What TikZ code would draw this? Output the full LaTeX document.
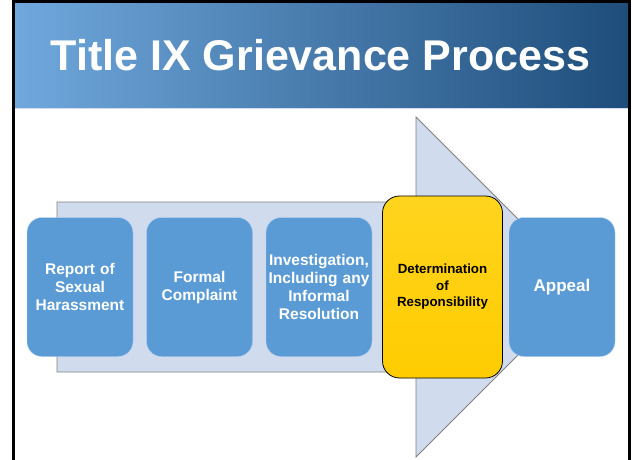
\documentclass[tikz,border=0pt]{standalone}
\usepackage{fontspec}
\setmainfont{Liberation Sans}
\usepackage{tikz}
\usetikzlibrary{positioning}
\definecolor{bandleft}{RGB}{112,168,221}
\definecolor{bandright}{RGB}{30,77,122}
\definecolor{arrowfill}{RGB}{208,220,238}
\definecolor{stageblue}{RGB}{91,155,213}
\definecolor{stagegold}{RGB}{255,204,0}
\definecolor{stagegoldtop}{RGB}{255,212,30}
\tikzstyle{stage} = [rectangle, rounded corners=15pt, minimum width=106pt, minimum height=139pt, inner xsep=1pt, text width=104pt, align=center, draw=white!55!stageblue, fill=stageblue, text=white, font=\bfseries\fontsize{15.5}{18}\selectfont]
\tikzstyle{stagehl} = [rectangle, rounded corners=17pt, minimum width=120pt, minimum height=182pt, inner xsep=1pt, text width=116pt, align=center, draw=black, line width=0.8pt, top color=stagegoldtop, bottom color=stagegold, font=\bfseries\fontsize{13.3}{16.5}\selectfont]
\tikzstyle{banner} = [text=white, font=\bfseries\fontsize{43}{50}\selectfont]

\begin{document}
\begin{tikzpicture}[x=1pt, y=-1pt, node distance=119.5pt]
        \useasboundingbox (0,0) rectangle (632,460);
        % header band and frame
        \shade [left color=bandleft, right color=bandright] (15,3) rectangle (628,107);
        \draw [color=arrowfill, line width=1pt] (15,108) -- (628,108);
        \draw [line width=2.5pt] (13.5,460) -- (13.5,1.5) -- (629.5,1.5) -- (629.5,460);
        \node (title) [banner] at (320.5,55) {Title IX Grievance Process};
        % background arrow
        \draw [fill=arrowfill, draw=gray, line width=0.8pt] (57,202) -- (416,202) -- (416,117) -- (586,287) -- (416,457) -- (416,372) -- (57,372) -- cycle;
        % stages
        \node (stg1) [stage] at (80,287) {Report of\\Sexual\\Harassment};
        \node (stg2) [stage, right of=stg1] {Formal\\Complaint};
        \node (stg3) [stage, right of=stg2] {Investigation,\\Including any\\Informal\\Resolution};
        \node (stg4) [stagehl, right of=stg3, xshift=4pt] {Determination\\of\\Responsibility};
        \node (stg5) [stage, right of=stg4, font=\bfseries\fontsize{17}{20}\selectfont] {Appeal};
\end{tikzpicture}
\end{document}
